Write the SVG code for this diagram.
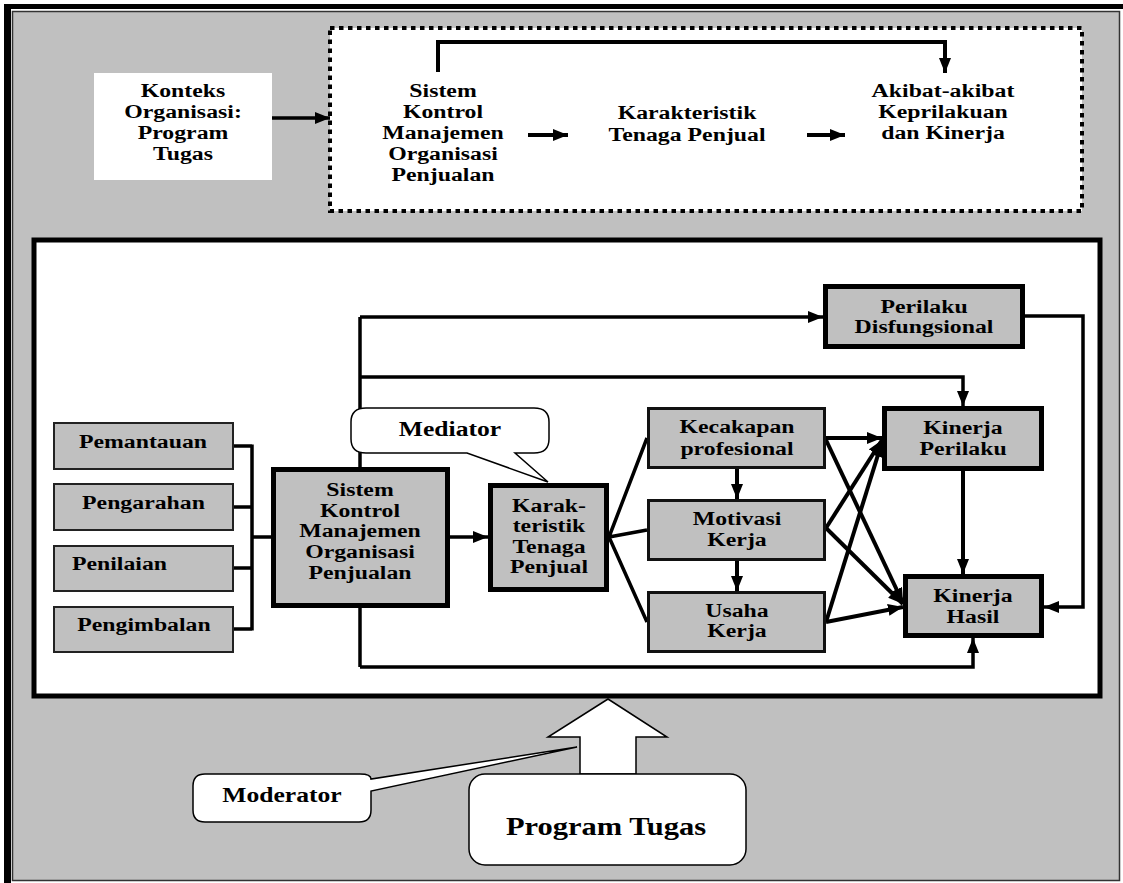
<svg xmlns="http://www.w3.org/2000/svg" width="1123" height="883" viewBox="0 0 1123 883">
  <style>
    .t { font-family: "Liberation Serif", "Times New Roman", serif; font-weight: bold; font-size: 19.5px; fill: #000; text-anchor: middle; }
    .big { font-size: 25px; }
    .call { font-size: 21px; }
    .box { fill: #c0c0c0; stroke: #000; stroke-width: 5; }
    .box-thin { fill: #c0c0c0; stroke: #111; stroke-width: 3; }
    .box-small { fill: #c0c0c0; stroke: #222; stroke-width: 2; }
    .bubble { fill: #fff; stroke: #000; stroke-width: 1.5; }
    .wire { fill: none; stroke: #000; stroke-width: 3.5; }
    .arr { fill: none; stroke: #000; stroke-width: 4; marker-end: url(#ah); }
    .arr-s { fill: none; stroke: #000; stroke-width: 3.5; marker-end: url(#ah); }
  </style>
  <defs>
    <marker id="ah" markerUnits="userSpaceOnUse" markerWidth="15" markerHeight="12" refX="15" refY="6" orient="auto">
      <path d="M0,0 L15,6 L0,12 Z" fill="#000"/>
    </marker>
  </defs>

  <!-- page frame -->
  <g id="frame">
    <rect x="12.5" y="11.5" width="1107" height="869" fill="#c0c0c0" stroke="#333" stroke-width="1.5"/>
    <rect x="4" y="4" width="1119" height="5" fill="#000"/>
    <rect x="4" y="4" width="7" height="879" fill="#000"/>
  </g>

  <!-- top overview -->
  <g id="overview">
    <rect x="330" y="28" width="752" height="183" fill="#fff" stroke="#000" stroke-width="4" stroke-dasharray="4.5 4.5"/>
  </g>

  <!-- main model area -->
  <g id="model-area">
    <rect x="34" y="240" width="1066" height="456" fill="#fff" stroke="#000" stroke-width="5"/>
  </g>

  <!-- connectors -->
  <g id="connectors">
    <line class="arr-s" x1="272" y1="118" x2="330" y2="118"/>
    <path class="arr" d="M438,72 V42 H945 V73"/>
    <line class="arr" x1="528" y1="135" x2="568" y2="135"/>
    <line class="arr" x1="807" y1="135" x2="845" y2="135"/>

    <!-- control elements bus -->
    <path class="wire" d="M233,446 H252 M233,507 H252 M233,568 H252 M233,629 H252 M252,444.5 V630.5 M252,537 H272"/>

    <!-- from the control system -->
    <path class="wire" d="M360,317 V667"/>
    <path class="arr-s" d="M360,317 H823"/>
    <path class="arr-s" d="M360,377 H963 V406"/>
    <path class="arr-s" d="M360,667 H973 V638"/>
    <path class="arr-s" d="M1025,316 H1083 V607 H1044"/>
    <line class="arr-s" x1="450" y1="537" x2="488" y2="537"/>

    <!-- salesperson characteristics fan -->
    <path class="wire" stroke-width="4.5" d="M609,537 L647,438 M609,537 L647,530 M609,537 L647,622"/>

    <line class="arr" x1="737" y1="469" x2="737" y2="499"/>
    <line class="arr" x1="737" y1="561" x2="737" y2="591"/>
    <line class="arr" x1="963" y1="471" x2="963" y2="574"/>

    <line class="arr" x1="826" y1="438" x2="882" y2="438"/>
    <line class="arr" x1="826" y1="440" x2="903" y2="603"/>
    <line class="arr" x1="826" y1="528" x2="882" y2="440"/>
    <line class="arr" x1="826" y1="528" x2="903" y2="604"/>
    <line class="arr" x1="826" y1="622" x2="882" y2="442"/>
    <line class="arr" x1="826" y1="622" x2="903" y2="607"/>
  </g>

  <!-- top row nodes -->
  <g id="konteks">
    <rect x="94" y="73" width="178" height="107" fill="#fff"/>
    <text class="t" transform="translate(183 0) scale(1.22 1)"><tspan x="0" y="97">Konteks</tspan><tspan x="0" y="118.5">Organisasi:</tspan><tspan x="0" y="139.5">Program</tspan><tspan x="0" y="160.5">Tugas</tspan></text>
  </g>
  <g id="top-sistem">
    <text class="t" transform="translate(443 0) scale(1.22 1)"><tspan x="0" y="97">Sistem</tspan><tspan x="0" y="118">Kontrol</tspan><tspan x="0" y="139">Manajemen</tspan><tspan x="0" y="160">Organisasi</tspan><tspan x="0" y="181">Penjualan</tspan></text>
  </g>
  <g id="top-karakteristik">
    <text class="t" transform="translate(687 0) scale(1.22 1)"><tspan x="0" y="119">Karakteristik</tspan><tspan x="0" y="141">Tenaga Penjual</tspan></text>
  </g>
  <g id="top-akibat">
    <text class="t" transform="translate(943 0) scale(1.22 1)"><tspan x="0" y="97">Akibat-akibat</tspan><tspan x="0" y="118">Keprilakuan</tspan><tspan x="0" y="139">dan Kinerja</tspan></text>
  </g>

  <!-- control elements -->
  <g id="pemantauan">
    <rect class="box-small" x="54" y="423" width="179" height="46"/>
    <text class="t" transform="translate(143 0) scale(1.22 1)" x="0" y="448">Pemantauan</text>
  </g>
  <g id="pengarahan">
    <rect class="box-small" x="54" y="484" width="179" height="46"/>
    <text class="t" transform="translate(143.5 0) scale(1.22 1)" x="0" y="509">Pengarahan</text>
  </g>
  <g id="penilaian">
    <rect class="box-small" x="54" y="546" width="179" height="45"/>
    <text class="t" transform="translate(119.5 0) scale(1.22 1)" x="0" y="570">Penilaian</text>
  </g>
  <g id="pengimbalan">
    <rect class="box-small" x="54" y="607" width="179" height="45"/>
    <text class="t" transform="translate(144 0) scale(1.22 1)" x="0" y="631">Pengimbalan</text>
  </g>

  <g id="sistem">
    <rect class="box" x="273.5" y="469.5" width="174" height="136"/>
    <text class="t" transform="translate(360 0) scale(1.22 1)"><tspan x="0" y="496">Sistem</tspan><tspan x="0" y="517">Kontrol</tspan><tspan x="0" y="537.5">Manajemen</tspan><tspan x="0" y="558">Organisasi</tspan><tspan x="0" y="579">Penjualan</tspan></text>
  </g>

  <g id="mediator">
    <path class="bubble" d="M366,408 H534 Q549,408 549,422 V439 Q549,453 534,453 H515 L548,482 L467,453 H366 Q351,453 351,439 V422 Q351,408 366,408 Z"/>
    <text class="t call" transform="translate(450 0) scale(1.22 1)" x="0" y="436">Mediator</text>
  </g>

  <g id="karakteristik">
    <rect class="box" x="490.5" y="485.5" width="116" height="104"/>
    <text class="t" transform="translate(549 0) scale(1.22 1)"><tspan x="0" y="512">Karak-</tspan><tspan x="0" y="532">teristik</tspan><tspan x="0" y="553">Tenaga</tspan><tspan x="0" y="573">Penjual</tspan></text>
  </g>

  <g id="kecakapan">
    <rect class="box-thin" x="648.5" y="408.5" width="176" height="59"/>
    <text class="t" transform="translate(737 0) scale(1.22 1)"><tspan x="0" y="433">Kecakapan</tspan><tspan x="0" y="455">profesional</tspan></text>
  </g>
  <g id="motivasi">
    <rect class="box-thin" x="648.5" y="500.5" width="176" height="59"/>
    <text class="t" transform="translate(737 0) scale(1.22 1)"><tspan x="0" y="525">Motivasi</tspan><tspan x="0" y="546">Kerja</tspan></text>
  </g>
  <g id="usaha">
    <rect class="box-thin" x="648.5" y="592.5" width="176" height="59"/>
    <text class="t" transform="translate(737 0) scale(1.22 1)"><tspan x="0" y="617">Usaha</tspan><tspan x="0" y="637">Kerja</tspan></text>
  </g>

  <g id="disfungsional">
    <rect class="box" x="825.5" y="286.5" width="197" height="60"/>
    <text class="t" transform="translate(924 0) scale(1.22 1)"><tspan x="0" y="313">Perilaku</tspan><tspan x="0" y="333">Disfungsional</tspan></text>
  </g>
  <g id="kinerja-perilaku">
    <rect class="box" x="884.5" y="408.5" width="157" height="60"/>
    <text class="t" transform="translate(963 0) scale(1.22 1)"><tspan x="0" y="434">Kinerja</tspan><tspan x="0" y="455">Perilaku</tspan></text>
  </g>
  <g id="kinerja-hasil">
    <rect class="box" x="905.5" y="576.5" width="136" height="59"/>
    <text class="t" transform="translate(973 0) scale(1.22 1)"><tspan x="0" y="602">Kinerja</tspan><tspan x="0" y="623">Hasil</tspan></text>
  </g>

  <!-- moderating task programme -->
  <g id="moderator-arrow">
    <polygon points="608,699 667,737 636,737 636,774 580,774 580,737 548,737" fill="#fff" stroke="#000" stroke-width="1.5"/>
  </g>
  <g id="program-tugas">
    <rect x="469" y="774" width="277" height="91" rx="16" fill="#fff" stroke="#000" stroke-width="1.5"/>
    <text class="t big" transform="translate(606 0) scale(1.22 1)" x="0" y="835">Program Tugas</text>
  </g>
  <g id="moderator">
    <path class="bubble" d="M205,774 H360 Q371,774 371,779 L577,747 L371,791 V810 Q371,822 359,822 H205 Q193,822 193,810 V786 Q193,774 205,774 Z"/>
    <text class="t call" transform="translate(282 0) scale(1.22 1)" x="0" y="802">Moderator</text>
  </g>
</svg>
